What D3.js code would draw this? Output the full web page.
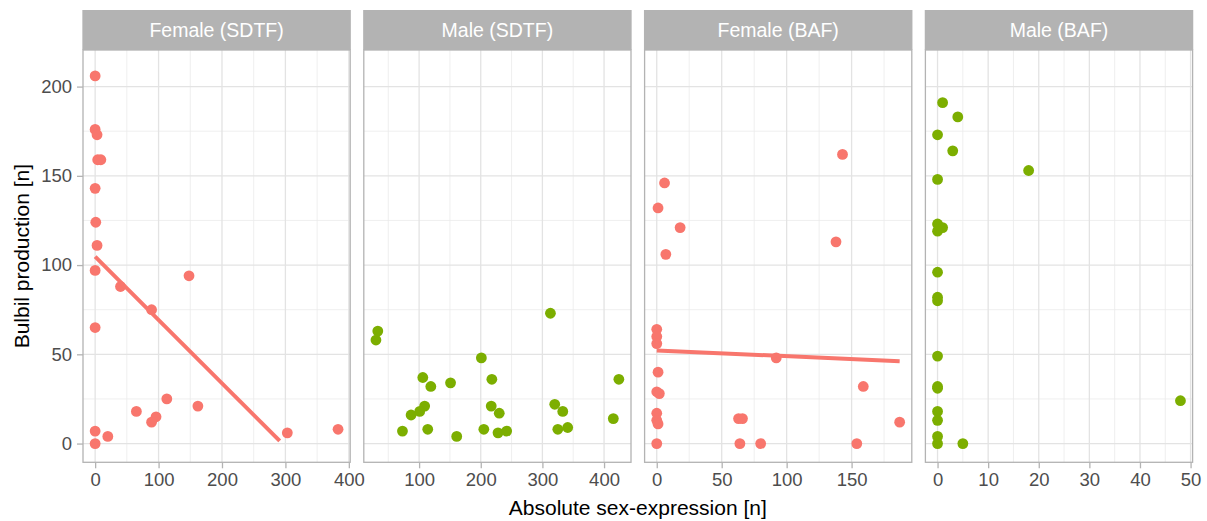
<!DOCTYPE html>
<html>
<head>
<meta charset="utf-8">
<script src="https://cdn.jsdelivr.net/npm/d3@7"></script>
<style>
  html, body { margin: 0; padding: 0; background: #ffffff; }
  svg { display: block; }
  text { font-family: "Liberation Sans", Arial, Helvetica, sans-serif; }
</style>
</head>
<body>
<script>
// ---------------- DATA ----------------
const panelTitles = ["Female (SDTF)", "Male (SDTF)", "Female (BAF)", "Male (BAF)"];
const panelSex = ["Female", "Male", "Female", "Male"];

const femaleSDTF_x = [0, 0, 3, 4, 9, 0, 1, 3, 0, 40, 148, 89, 0, 113, 162, 65, 96, 89, 0, 20, 0, 303, 383];
const femaleSDTF_y = [206, 176, 173, 159, 159, 143, 124, 111, 97, 88, 94, 75, 65, 25, 21, 18, 15, 12, 7, 4, 0, 6, 8];

const maleSDTF_x = [33, 30, 313, 201, 106, 119, 151, 218, 424, 109, 101, 87, 73, 114, 161, 217, 230, 205, 228, 242, 320, 333, 325, 341, 415];
const maleSDTF_y = [63, 58, 73, 48, 37, 32, 34, 36, 36, 21, 18, 16, 7, 8, 4, 21, 17, 8, 6, 7, 22, 18, 8, 9, 14];

const femaleBAF_x = [143, 6, 1, 18, 138, 7, 0, 0, 0, 92, 1, 159, 0, 2, 0, 0, 1, 63, 66, 187, 0, 64, 80, 154];
const femaleBAF_y = [162, 146, 132, 121, 113, 106, 64, 60, 56, 48, 40, 32, 29, 28, 17, 13, 11, 14, 14, 12, 0, 0, 0, 0];

const maleBAF_x = [1, 4, 0, 3, 18, 0, 0, 1, 0, 0, 0, 0, 0, 0, 0, 0, 0, 0, 0, 5, 48];
const maleBAF_y = [191, 183, 173, 164, 153, 148, 123, 121, 119, 96, 82, 80, 49, 32, 31, 18, 13, 4, 0, 0, 24];

// fitted linear trend lines (end points)
const femaleSDTF_fitX = [0, 291];
const femaleSDTF_fitY = [104.7, 1.5];
const femaleBAF_fitX = [0, 187];
const femaleBAF_fitY = [52.2, 46.1];

const xTicksByPanel = [[0, 100, 200, 300, 400], [100, 200, 300, 400], [0, 50, 100, 150], [0, 10, 20, 30, 40, 50]];
const xMinorByPanel = [[50, 150, 250, 350], [50, 150, 250, 350], [25, 75, 125, 175], [5, 15, 25, 35, 45]];
const yTicks = [0, 50, 100, 150, 200];
const yMinor = [25, 75, 125, 175];
const yLimits = [0, 210];

const xLabel = "Absolute sex-expression [n]";
const yLabel = "Bulbil production [n]";

// ---------------- LAYOUT ----------------
const W = 1207, H = 521;
const colors = { Female: "#F8766D", Male: "#7CAE00" };
const panelLeft = 83, panelW = 267.2, gap = 13.6;
const stripTop = 10, stripH = 40;
const plotTop = 50, plotBottom = 462.3;

const svg = d3.select("body").append("svg").attr("width", W).attr("height", H);

const series = [
  { x: femaleSDTF_x, y: femaleSDTF_y, fit: { x: femaleSDTF_fitX, y: femaleSDTF_fitY } },
  { x: maleSDTF_x, y: maleSDTF_y, fit: null },
  { x: femaleBAF_x, y: femaleBAF_x.length ? femaleBAF_y : [], fit: { x: femaleBAF_fitX, y: femaleBAF_fitY } },
  { x: maleBAF_x, y: maleBAF_y, fit: null }
];

function expand(ext) {
  const r = ext[1] - ext[0];
  return [ext[0] - 0.05 * r, ext[1] + 0.05 * r];
}

const y = d3.scaleLinear().domain(expand(yLimits)).range([plotBottom, plotTop]);

series.forEach((s, i) => {
  const x0 = panelLeft + i * (panelW + gap);
  const x = d3.scaleLinear().domain(expand(d3.extent(s.x))).range([x0, x0 + panelW]);
  const g = svg.append("g");

  // panel background
  g.append("rect").attr("x", x0).attr("y", plotTop).attr("width", panelW).attr("height", plotBottom - plotTop)
    .attr("fill", "#ffffff");

  // minor grid
  g.selectAll(".ymin").data(yMinor).join("line")
    .attr("x1", x0).attr("x2", x0 + panelW).attr("y1", d => y(d)).attr("y2", d => y(d))
    .attr("stroke", "#EBEBEB").attr("stroke-width", 0.8);
  g.selectAll(".xmin").data(xMinorByPanel[i].filter(d => d >= x.domain()[0] && d <= x.domain()[1])).join("line")
    .attr("y1", plotTop).attr("y2", plotBottom).attr("x1", d => x(d)).attr("x2", d => x(d))
    .attr("stroke", "#EBEBEB").attr("stroke-width", 0.8);
  // major grid
  g.selectAll(".ymaj").data(yTicks).join("line")
    .attr("x1", x0).attr("x2", x0 + panelW).attr("y1", d => y(d)).attr("y2", d => y(d))
    .attr("stroke", "#E3E3E3").attr("stroke-width", 1.3);
  g.selectAll(".xmaj").data(xTicksByPanel[i]).join("line")
    .attr("y1", plotTop).attr("y2", plotBottom).attr("x1", d => x(d)).attr("x2", d => x(d))
    .attr("stroke", "#E3E3E3").attr("stroke-width", 1.3);

  // points
  const pts = s.x.map((v, k) => ({ x: v, y: s.y[k] }));
  g.selectAll("circle").data(pts).join("circle")
    .attr("cx", d => x(d.x)).attr("cy", d => y(d.y)).attr("r", 5.4)
    .attr("fill", colors[panelSex[i]]);

  // fit line
  if (s.fit) {
    const fl = s.fit.x.map((v, k) => ({ x: v, y: s.fit.y[k] }));
    g.append("path").datum(fl)
      .attr("d", d3.line().x(d => x(d.x)).y(d => y(d.y)))
      .attr("stroke", colors[panelSex[i]]).attr("stroke-width", 4).attr("fill", "none");
  }

  // border
  g.append("rect").attr("x", x0).attr("y", plotTop).attr("width", panelW).attr("height", plotBottom - plotTop)
    .attr("fill", "none").attr("stroke", "#B3B3B3").attr("stroke-width", 1.3);

  // strip
  g.append("rect").attr("x", x0 - 0.65).attr("y", stripTop).attr("width", panelW + 1.3).attr("height", stripH)
    .attr("fill", "#B3B3B3");
  g.append("text").attr("x", x0 + panelW / 2).attr("y", stripTop + stripH / 2 + 7)
    .attr("text-anchor", "middle").attr("fill", "#ffffff").attr("font-size", 19.5)
    .text(panelTitles[i]);

  // x axis
  const xAxis = d3.axisBottom(x).tickValues(xTicksByPanel[i]).tickSize(6).tickPadding(5).tickFormat(d3.format("d"));
  const ax = g.append("g").attr("transform", `translate(0,${plotBottom})`).call(xAxis);
  ax.select(".domain").remove();
  ax.selectAll(".tick line").attr("stroke", "#B3B3B3").attr("stroke-width", 1.3);
  ax.selectAll(".tick text").attr("fill", "#4D4D4D").attr("font-size", 18.5)
    .attr("font-family", "'Liberation Sans', Arial, sans-serif");

  // y axis on first panel
  if (i === 0) {
    const yAxis = d3.axisLeft(y).tickValues(yTicks).tickSize(6).tickPadding(5).tickFormat(d3.format("d"));
    const ay = g.append("g").attr("transform", `translate(${x0},0)`).call(yAxis);
    ay.select(".domain").remove();
    ay.selectAll(".tick line").attr("stroke", "#B3B3B3").attr("stroke-width", 1.3);
    ay.selectAll(".tick text").attr("fill", "#4D4D4D").attr("font-size", 18.5)
      .attr("font-family", "'Liberation Sans', Arial, sans-serif");
  }
});

// axis titles
const totalRight = panelLeft + 4 * panelW + 3 * gap;
svg.append("text").attr("x", (panelLeft + totalRight) / 2).attr("y", 515)
  .attr("text-anchor", "middle").attr("fill", "#000000").attr("font-size", 21).text(xLabel);
svg.append("text").attr("transform", `translate(29,${(plotTop + plotBottom) / 2}) rotate(-90)`)
  .attr("text-anchor", "middle").attr("fill", "#000000").attr("font-size", 21).text(yLabel);
</script>
</body>
</html>
